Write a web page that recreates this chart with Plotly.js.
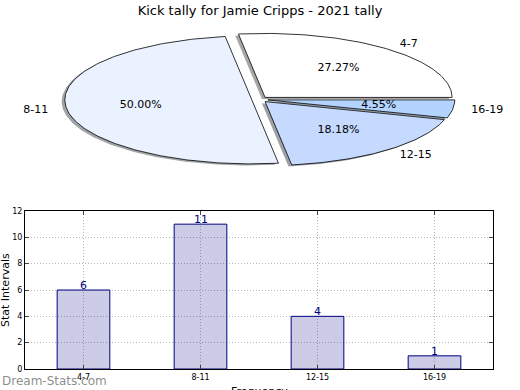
<!DOCTYPE html>
<html>
<head>
<meta charset="utf-8">
<script src="https://cdn.plot.ly/plotly-3.0.1.min.js"></script>
<style>html,body{margin:0;padding:0;background:#fff;} #chart{width:520px;height:390px;}</style>
</head>
<body>
<div id="chart"></div>
<script>
// ---- data ----
const categories = ['4-7', '8-11', '12-15', '16-19'];
const counts = [6, 11, 4, 1];
const pieColors = ['#ffffff', '#eaf2ff', '#c6d9ff', '#b3d4ff'];
const yTicks = [0, 2, 4, 6, 8, 10, 12];
const titleText = 'Kick tally for Jamie Cripps - 2021 tally';

// ---- pie geometry (pixel space of an invisible overlay axis) ----
const PIE = {cx: 259.8, cy: 99.5, rx: 187, ry: 64, explode: 0.043, shadowDx: -3.2, shadowDy: 1.6};
const total = counts.reduce((a, b) => a + b, 0);
const deg = Math.PI / 180;

function wedge(a0, a1, ax, ay) {
  const xs = [ax], ys = [ay];
  const n = Math.max(2, Math.ceil(a1 - a0));
  for (let i = 0; i <= n; i++) {
    const t = (a0 + (a1 - a0) * i / n) * deg;
    xs.push(ax + PIE.rx * Math.cos(t));
    ys.push(ay - PIE.ry * Math.sin(t));
  }
  xs.push(ax); ys.push(ay);
  return {xs, ys};
}
function hexToRgb(h) {
  return [parseInt(h.slice(1, 3), 16), parseInt(h.slice(3, 5), 16), parseInt(h.slice(5, 7), 16)];
}

const traces = [];
// bar chart first (drawn in its own subplot)
traces.push({type: 'bar', x: categories, y: counts, width: 0.45,
  marker: {color: 'rgba(0,0,128,0.2)', line: {color: '#000080', width: 1}},
  hoverinfo: 'skip', showlegend: false});

const labX = [], labY = [], labT = [], labPos = [];
const pctX = [], pctY = [], pctT = [];
let start = 0;
counts.forEach((v, i) => {
  const sweep = v / total * 360;
  const a0 = start, a1 = start + sweep, mid = (a0 + a1) / 2;
  const ax = PIE.cx + PIE.explode * PIE.rx * Math.cos(mid * deg);
  const ay = PIE.cy - PIE.explode * PIE.ry * Math.sin(mid * deg);
  // shadow
  const sh = wedge(a0, a1, ax + PIE.shadowDx, ay + PIE.shadowDy);
  const c = hexToRgb(pieColors[i]).map(k => Math.round(k * 0.3));
  traces.push({type: 'scatter', mode: 'lines', x: sh.xs, y: sh.ys, xaxis: 'x2', yaxis: 'y2',
    fill: 'toself', fillcolor: `rgba(${c[0]},${c[1]},${c[2]},0.5)`, line: {width: 0},
    hoverinfo: 'skip', showlegend: false});
  // slice
  const w = wedge(a0, a1, ax, ay);
  traces.push({type: 'scatter', mode: 'lines', x: w.xs, y: w.ys, xaxis: 'x2', yaxis: 'y2',
    fill: 'toself', fillcolor: pieColors[i], line: {color: '#000000', width: 0.8},
    hoverinfo: 'skip', showlegend: false});
  const cm = Math.cos(mid * deg), sm = Math.sin(mid * deg);
  labX.push(ax + 1.1 * PIE.rx * cm); labY.push(ay - 1.1 * PIE.ry * sm);
  labT.push(categories[i]); labPos.push(cm >= 0 ? 'middle right' : 'middle left');
  pctX.push(ax + 0.6 * PIE.rx * cm); pctY.push(ay - 0.6 * PIE.ry * sm);
  pctT.push((v / total * 100).toFixed(2) + '%');
  start = a1;
});
traces.push({type: 'scatter', mode: 'text', x: labX, y: labY, text: labT, textposition: labPos,
  xaxis: 'x2', yaxis: 'y2', textfont: {family: 'DejaVu Sans', size: 11, color: '#000'},
  hoverinfo: 'skip', showlegend: false, cliponaxis: false});
traces.push({type: 'scatter', mode: 'text', x: pctX, y: pctY, text: pctT, textposition: 'middle center',
  xaxis: 'x2', yaxis: 'y2', textfont: {family: 'DejaVu Sans', size: 11, color: '#000'},
  hoverinfo: 'skip', showlegend: false, cliponaxis: false});

const W = 520, H = 390;
const valueNotes = categories.map((c, i) => ({
  text: String(counts[i]), x: c, y: counts[i], xref: 'x', yref: 'y',
  xanchor: 'center', yanchor: 'bottom', yshift: -4, showarrow: false,
  font: {family: 'DejaVu Sans', size: 11, color: '#000080'}
}));

const axisCommon = {
  showline: true, linecolor: '#000', linewidth: 1, mirror: 'allticks',
  ticks: 'inside', ticklen: 4, tickcolor: '#444', tickwidth: 1,
  showgrid: true, gridcolor: '#b8b8b8', griddash: '1px,2px', gridwidth: 1,
  tickfont: {family: 'DejaVu Sans', size: 8, color: '#000'}, zeroline: false, fixedrange: true
};

const layout = {
  width: W, height: H,
  margin: {l: 0, r: 0, t: 0, b: 0},
  paper_bgcolor: '#ffffff', plot_bgcolor: 'rgba(0,0,0,0)',
  showlegend: false,
  title: {text: titleText, x: 0.5, xanchor: 'center', y: 1 - 10 / H, yanchor: 'middle',
    font: {family: 'DejaVu Sans', size: 13, color: '#000'}},
  xaxis: Object.assign({domain: [25 / W, 493 / W], anchor: 'y', type: 'category', range: [-0.5, 3.5]}, axisCommon),
  yaxis: Object.assign({domain: [21 / H, 179 / H], anchor: 'x', range: [0, 12], tickvals: yTicks}, axisCommon),
  xaxis2: {domain: [0, 1], anchor: 'y2', range: [0, W], visible: false, fixedrange: true},
  yaxis2: {domain: [0, 1], anchor: 'x2', range: [H, 0], visible: false, fixedrange: true},
  annotations: valueNotes.concat([
    {text: 'Stat Intervals', xref: 'paper', yref: 'paper', x: 5 / W, y: (H - 290) / H,
      xanchor: 'center', yanchor: 'middle', textangle: -90, showarrow: false,
      font: {family: 'DejaVu Sans', size: 11, color: '#000'}},
    {text: 'Frequency', xref: 'paper', yref: 'paper', x: 259 / W, y: (H - 383) / H,
      xanchor: 'center', yanchor: 'top', showarrow: false,
      font: {family: 'DejaVu Sans', size: 11, color: '#000'}},
    {text: 'Dream-Stats.com', xref: 'paper', yref: 'paper', x: 0, y: (H - 381) / H,
      xanchor: 'left', yanchor: 'middle', showarrow: false,
      font: {family: 'DejaVu Sans', size: 12, color: 'rgba(120,120,120,0.85)'}}
  ])
};

Plotly.newPlot('chart', traces, layout, {staticPlot: true, displayModeBar: false});
</script>
</body>
</html>
